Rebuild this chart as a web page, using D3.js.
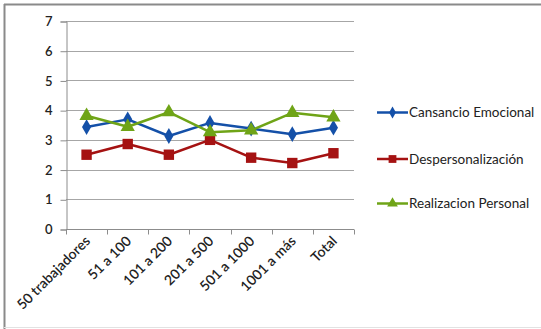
<!DOCTYPE html>
<html>
<head>
<meta charset="utf-8">
<script src="https://cdn.jsdelivr.net/npm/d3@7"></script>
<style>
  html, body { margin: 0; padding: 0; background: #fff; }
  svg { display: block; }
</style>
</head>
<body>
<svg id="chart" width="541" height="329"></svg>
<script>
// Categories (company size) and mean scores per burnout dimension
const categories = ["50 trabajadores", "51 a 100", "101 a 200", "201 a 500", "501 a 1000", "1001 a más", "Total"];
const cansancio = [3.43, 3.69, 3.13, 3.57, 3.38, 3.19, 3.41];
const despersonalizacion = [2.50, 2.86, 2.50, 3.00, 2.40, 2.22, 2.55];
const realizacion = [3.81, 3.44, 3.93, 3.26, 3.32, 3.91, 3.76];
const yTicks = [0, 1, 2, 3, 4, 5, 6, 7];

const series = [
  { name: "Cansancio Emocional", values: cansancio, color: "#1450a8", marker: "diamond" },
  { name: "Despersonalización", values: despersonalizacion, color: "#a51212", marker: "square" },
  { name: "Realizacion Personal", values: realizacion, color: "#6fa417", marker: "triangle" }
];

const svg = d3.select("#chart");
const font = "Lato, 'Open Sans', sans-serif";

// Outer chart frame (left and top edges dark, bottom light)
svg.append("line").attr("x1", 4.5).attr("x2", 4.5).attr("y1", 4).attr("y2", 329)
  .attr("stroke", "#8a8a8a").attr("stroke-width", 2);
svg.append("line").attr("x1", 4).attr("x2", 541).attr("y1", 4.5).attr("y2", 4.5)
  .attr("stroke", "#8a8a8a").attr("stroke-width", 2);
svg.append("line").attr("x1", 4).attr("x2", 541).attr("y1", 327.5).attr("y2", 327.5)
  .attr("stroke", "#e2e2e2").attr("stroke-width", 1);

const plot = { left: 66, right: 354, top: 21, bottom: 229 };

const x = d3.scaleBand().domain(categories).range([plot.left, plot.right]).padding(0);
const y = d3.scaleLinear().domain([0, 7]).range([plot.bottom, plot.top]);

// Horizontal gridlines
svg.append("g").selectAll("line").data(yTicks.filter(d => d > 0)).join("line")
  .attr("x1", plot.left).attr("x2", plot.right)
  .attr("y1", d => Math.round(y(d)) + 0.5).attr("y2", d => Math.round(y(d)) + 0.5)
  .attr("stroke", "#a6a6a6").attr("stroke-width", 1);

// Y axis
const yAxis = svg.append("g").attr("transform", `translate(${plot.left + 0.5},0.5)`)
  .call(d3.axisLeft(y).tickValues(yTicks).tickSize(6).tickPadding(8).tickFormat(d3.format("d")));
yAxis.select(".domain").attr("stroke", "#8c8c8c");
yAxis.selectAll(".tick line").attr("stroke", "#8c8c8c");
yAxis.selectAll("text").attr("font-family", font).attr("font-size", 13)
  .attr("font-weight", 600).attr("fill", "#222");

// X axis with tick marks at category boundaries
const xAxisG = svg.append("g").attr("transform", `translate(0,${plot.bottom + 0.5})`);
xAxisG.append("line").attr("x1", plot.left).attr("x2", plot.right).attr("y1", 0).attr("y2", 0)
  .attr("stroke", "#8c8c8c");
const bounds = categories.map(c => x(c)).concat([x(categories[categories.length - 1]) + x.bandwidth()]);
xAxisG.selectAll("line.tk").data(bounds).join("line").attr("class", "tk")
  .attr("x1", d => Math.round(d) + 0.5).attr("x2", d => Math.round(d) + 0.5)
  .attr("y1", 0).attr("y2", 5).attr("stroke", "#8c8c8c");
xAxisG.selectAll("text").data(categories).join("text")
  .attr("transform", d => `translate(${x(d) + x.bandwidth() / 2 + 1},${9}) rotate(-45)`)
  .attr("text-anchor", "end").attr("dy", "0.35em")
  .attr("font-family", font).attr("font-size", 14).attr("font-weight", 600).attr("fill", "#222")
  .text(d => d);

// Marker shapes
function markerPath(type, size) {
  if (type === "diamond") return d3.symbol(d3.symbolDiamond, size * 0.9)();
  if (type === "square") return d3.symbol(d3.symbolSquare, size * 1.35)();
  return d3.symbol(d3.symbolTriangle, size * 1.1)();
}

const line = d3.line().x((d, i) => x(categories[i]) + x.bandwidth() / 2).y(d => y(d));

series.forEach(s => {
  const g = svg.append("g");
  g.append("path").datum(s.values).attr("d", line)
    .attr("fill", "none").attr("stroke", s.color).attr("stroke-width", 2.5)
    .attr("stroke-linejoin", "round");
  g.selectAll("path.m").data(s.values).join("path").attr("class", "m")
    .attr("d", markerPath(s.marker, 80))
    .attr("transform", (d, i) => `translate(${x(categories[i]) + x.bandwidth() / 2},${y(d)})`)
    .attr("fill", s.color);
});

// Legend
const legend = svg.append("g");
const legendY = [112.5, 159, 203.5];
series.forEach((s, i) => {
  const g = legend.append("g").attr("transform", `translate(377,${legendY[i]})`);
  g.append("line").attr("x1", 0).attr("x2", 31).attr("stroke", s.color).attr("stroke-width", 2.5);
  g.append("path").attr("d", markerPath(s.marker, 45)).attr("transform", "translate(15.5,0)")
    .attr("fill", s.color);
  g.append("text").attr("x", 32).attr("dy", "0.35em")
    .attr("font-family", font).attr("font-size", 13.5).attr("fill", "#222").text(s.name);
});
</script>
</body>
</html>
